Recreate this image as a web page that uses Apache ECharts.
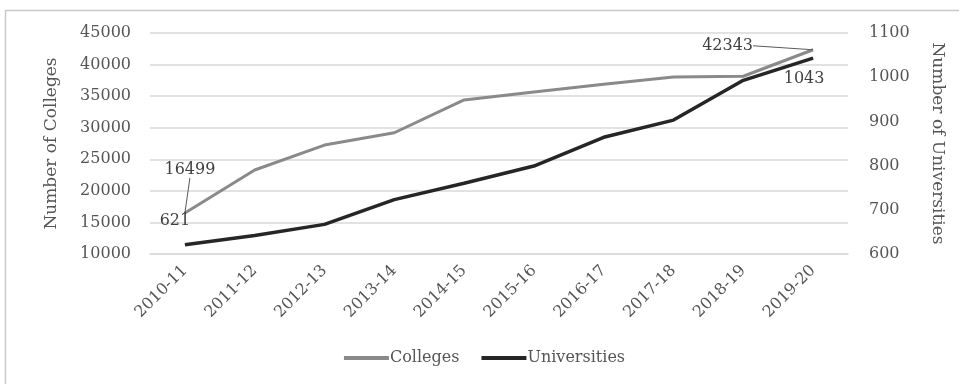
<!DOCTYPE html>
<html>
<head>
<meta charset="utf-8">
<script src="https://cdn.jsdelivr.net/npm/echarts@6/dist/echarts.min.js"></script>
<style>
  html, body { margin: 0; padding: 0; background: #fff; }
  #chart { width: 969px; height: 385px; }
</style>
</head>
<body>
<div id="chart"></div>
<script>
// Academic years on the category axis
const years = ['2010-11', '2011-12', '2012-13', '2013-14', '2014-15',
               '2015-16', '2016-17', '2017-18', '2018-19', '2019-20'];

// Number of colleges (left axis)
const colleges = [16499, 23300, 27250, 29200, 34400, 35650, 36900, 38050, 38150, 42343];

// Number of universities (right axis)
const universities = [621, 642, 667, 723, 760, 799, 864, 903, 993, 1043];

// Axis ranges
const collegeAxis = { min: 10000, max: 45000, step: 5000 };
const universityAxis = { min: 600, max: 1100, step: 100 };

const FONT = 'DejaVu Serif';
const TEXT = '#555555';
const GRID_LINE = '#d9d9d9';

const chart = echarts.init(document.getElementById('chart'), null, { renderer: 'canvas' });

// Label placement per series / point (only first and last points are labelled)
const labelShift = {
  '0-0': { pos: 'top', dx: 5, dy: -30 },
  '0-9': { pos: 'left', dx: -55, dy: -4 },
  '1-0': { pos: 'top', dx: -10, dy: -11 },
  '1-9': { pos: 'bottom', dx: -9, dy: 8 }
};

function seriesData(si, values) {
  return values.map((v, i) => {
    const s = labelShift[si + '-' + i];
    return s ? { value: v, label: { show: true, position: s.pos } } : v;
  });
}

function shiftFor(si) {
  return p => {
    const s = labelShift[si + '-' + p.dataIndex];
    return s ? { dx: s.dx, dy: s.dy } : {};
  };
}

const plain = v => String(v);

chart.setOption({
  animation: false,
  textStyle: { fontFamily: FONT, color: TEXT },
  graphic: [{
    type: 'polyline',
    shape: { points: [[5.5, 384], [5.5, 10.5], [959, 10.5]] },
    style: { stroke: '#c9c9c9', lineWidth: 1.5, fill: null },
    silent: true
  }],
  legend: {
    bottom: 14,
    left: 'center',
    itemWidth: 45,
    itemHeight: 4,
    itemGap: 22,
    icon: 'rect',
    textStyle: { fontFamily: FONT, fontSize: 16, color: TEXT, padding: [0, 0, 0, -4] },
    data: ['Colleges', 'Universities']
  },
  grid: { left: 150, right: 121, top: 33, bottom: 131 },
  xAxis: {
    type: 'category',
    data: years,
    boundaryGap: true,
    axisLine: { lineStyle: { color: GRID_LINE, width: 1.5 } },
    axisTick: { show: false },
    axisLabel: { rotate: 45, margin: 14, fontFamily: FONT, fontSize: 16, color: TEXT, interval: 0 }
  },
  yAxis: [{
    type: 'value',
    min: collegeAxis.min, max: collegeAxis.max, interval: collegeAxis.step,
    name: 'Number of Colleges',
    nameLocation: 'middle',
    nameGap: 90,
    nameRotate: 90,
    nameTextStyle: { fontFamily: FONT, fontSize: 17, color: TEXT },
    axisLine: { show: false },
    axisTick: { show: false },
    axisLabel: { margin: 19, fontFamily: FONT, fontSize: 16, color: TEXT, formatter: plain },
    splitLine: { lineStyle: { color: GRID_LINE, width: 1.5 } }
  }, {
    type: 'value',
    position: 'right',
    min: universityAxis.min, max: universityAxis.max, interval: universityAxis.step,
    name: 'Number of Universities',
    nameLocation: 'middle',
    nameGap: 81,
    nameRotate: -90,
    nameTextStyle: { fontFamily: FONT, fontSize: 17, color: TEXT },
    axisLine: { show: false },
    axisTick: { show: false },
    axisLabel: { margin: 21, fontFamily: FONT, fontSize: 16, color: TEXT, formatter: plain },
    splitLine: { show: false }
  }],
  series: [{
    name: 'Colleges',
    type: 'line',
    yAxisIndex: 0,
    data: seriesData(0, colleges),
    symbol: 'circle',
    symbolSize: 0.1,
    showSymbol: true,
    itemStyle: { color: '#8a8a8a' },
    lineStyle: { color: '#8a8a8a', width: 3 },
    label: { show: false, fontFamily: FONT, fontSize: 16, color: '#404040' },
    labelLine: { show: true, lineStyle: { color: '#595959', width: 1 } },
    labelLayout: shiftFor(0),
    z: 2
  }, {
    name: 'Universities',
    type: 'line',
    yAxisIndex: 1,
    data: seriesData(1, universities),
    symbol: 'circle',
    symbolSize: 0.1,
    showSymbol: true,
    itemStyle: { color: '#262626' },
    lineStyle: { color: '#262626', width: 3.5 },
    label: { show: false, fontFamily: FONT, fontSize: 16, color: '#404040' },
    labelLayout: shiftFor(1),
    z: 3
  }]
});
</script>
</body>
</html>
